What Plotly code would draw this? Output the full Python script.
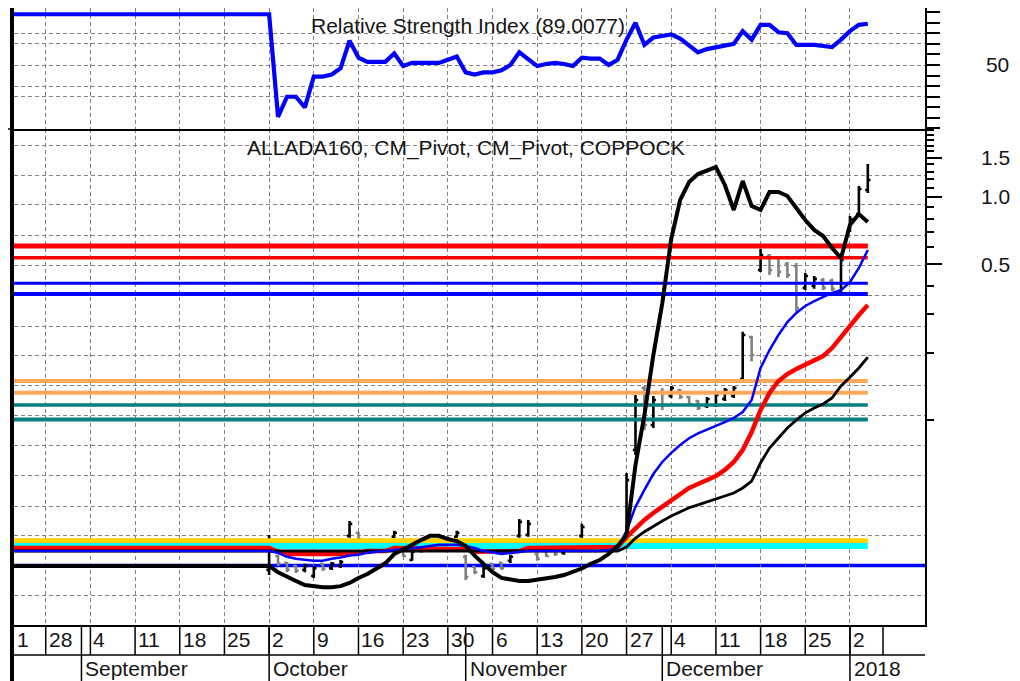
import plotly.graph_objects as go

# trading sessions, 0 = Mon 28 Aug 2017, one step per trading day
session = list(range(-4, 93))
week_starts = [0, 5, 10, 15, 20, 25, 30, 35, 40, 45, 50, 55, 60, 65, 70, 75, 80, 85, 90]
week_labels = ["28", "4", "11", "18", "25", "2", "9", "16", "23", "30",
               "6", "13", "20", "27", "4", "11", "18", "25", "2"]
month_starts = [4, 25, 47, 69, 90]
month_labels = ["September", "October", "November", "December", "2018"]

# upper panel: RSI
rsi = [98, 98, 98, 98, 98, 98, 98, 98, 98, 98,
       98, 98, 98, 98, 98, 98, 98, 98, 98, 98,
       98, 98, 98, 98, 98, 98, 98, 98, 98, 98,
       1, 20, 20, 10, 39, 39, 41, 47, 73, 57,
       53, 53, 53, 61, 49, 52, 52, 52, 52, 55,
       58, 43, 41, 43, 43, 45, 50, 62, 55, 49,
       51, 52, 51, 49, 57, 56, 56, 50, 55, 74,
       90, 69, 76, 78, 79, 75, 68, 62, 65, 67,
       69, 70, 82, 74, 88, 88, 81, 80, 69, 69,
       69, 68, 67, 74, 82, 88, 89.0077]
rsi_grid = [20, 30, 50, 70, 80]
rsi_ticktext = ["", "", "50", "", ""]

# lower panel: coppock and three moving averages
coppock = [
    0.0223, 0.0223, 0.0223, 0.0223, 0.0223, 0.0223, 0.0223, 0.0223, 0.0223, 0.0223,
    0.0223, 0.0223, 0.0223, 0.0223, 0.0223, 0.0223, 0.0223, 0.0223, 0.0223, 0.0223,
    0.0223, 0.0223, 0.0223, 0.0223, 0.0223, 0.0223, 0.0223, 0.0223, 0.0223, 0.0223,
    0.0209, 0.0199, 0.0191, 0.0183, 0.0181, 0.0179, 0.0179, 0.0181, 0.0187, 0.0197,
    0.0205, 0.0217, 0.0229, 0.0252, 0.0263, 0.0277, 0.0291, 0.0304, 0.0304, 0.0294,
    0.0288, 0.0274, 0.0248, 0.0228, 0.0209, 0.0197, 0.0193, 0.0191, 0.0191, 0.0193,
    0.0195, 0.0199, 0.0203, 0.0209, 0.0217, 0.0228, 0.0237, 0.0252, 0.0274, 0.0307,
    0.0631, 0.1057, 0.196, 0.335, 0.649, 0.970, 1.167, 1.267, 1.321, 1.362,
    1.132, 0.875, 1.179, 0.912, 0.875, 1.053, 1.053, 1.010, 0.893, 0.789,
    0.712, 0.669, 0.591, 0.533, 0.749, 0.839, 0.773]

ma_blue = [
    0.0260, 0.0260, 0.0260, 0.0260, 0.0260, 0.0260, 0.0260, 0.0260, 0.0260, 0.0260,
    0.0260, 0.0260, 0.0260, 0.0260, 0.0260, 0.0260, 0.0260, 0.0260, 0.0260, 0.0260,
    0.0260, 0.0260, 0.0260, 0.0260, 0.0260, 0.0260, 0.0260, 0.0260, 0.0260, 0.0260,
    0.0255, 0.0245, 0.0240, 0.0237, 0.0235, 0.0235, 0.0240, 0.0243, 0.0248, 0.0250,
    0.0255, 0.0258, 0.0260, 0.0263, 0.0265, 0.0268, 0.0270, 0.0274, 0.0277, 0.0277,
    0.0277, 0.0274, 0.0268, 0.0260, 0.0255, 0.0252, 0.0255, 0.0258, 0.0260, 0.0260,
    0.0260, 0.0260, 0.0260, 0.0260, 0.0260, 0.0260, 0.0260, 0.0263, 0.0268, 0.0320,
    0.0410, 0.0488, 0.0575, 0.0651, 0.0715, 0.0775, 0.0832, 0.0874, 0.0905, 0.0944,
    0.0982, 0.1025, 0.1090, 0.1233, 0.1716, 0.2065, 0.2410, 0.2756, 0.3025, 0.3250,
    0.342, 0.357, 0.372, 0.383, 0.416, 0.481, 0.579]

ma_red = [
    0.0268, 0.0268, 0.0268, 0.0268, 0.0268, 0.0268, 0.0268, 0.0268, 0.0268, 0.0268,
    0.0268, 0.0268, 0.0268, 0.0268, 0.0268, 0.0268, 0.0268, 0.0268, 0.0268, 0.0268,
    0.0268, 0.0268, 0.0268, 0.0268, 0.0268, 0.0268, 0.0268, 0.0268, 0.0268, 0.0268,
    0.0258, 0.0252, 0.0252, 0.0252, 0.0252, 0.0252, 0.0252, 0.0252, 0.0252, 0.0255,
    0.0260, 0.0260, 0.0260, 0.0268, 0.0268, 0.0268, 0.0268, 0.0268, 0.0268, 0.0268,
    0.0268, 0.0265, 0.0258, 0.0258, 0.0258, 0.0258, 0.0260, 0.0260, 0.0268, 0.0268,
    0.0268, 0.0268, 0.0268, 0.0268, 0.0268, 0.0268, 0.0268, 0.0268, 0.0271, 0.0300,
    0.0330, 0.0358, 0.0385, 0.0410, 0.0435, 0.0467, 0.0498, 0.0519, 0.0540, 0.0563,
    0.0600, 0.0651, 0.0737, 0.0887, 0.1113, 0.1326, 0.1500, 0.1611, 0.1698, 0.1769,
    0.1842, 0.1941, 0.2107, 0.2362, 0.2672, 0.2963, 0.3285]

ma_black = [
    0.0260, 0.0260, 0.0260, 0.0260, 0.0260, 0.0260, 0.0260, 0.0260, 0.0260, 0.0260,
    0.0260, 0.0260, 0.0260, 0.0260, 0.0260, 0.0260, 0.0260, 0.0260, 0.0260, 0.0260,
    0.0260, 0.0260, 0.0260, 0.0260, 0.0260, 0.0260, 0.0260, 0.0260, 0.0260, 0.0260,
    0.0260, 0.0260, 0.0260, 0.0260, 0.0260, 0.0260, 0.0260, 0.0260, 0.0260, 0.0260,
    0.0260, 0.0260, 0.0260, 0.0260, 0.0260, 0.0260, 0.0260, 0.0260, 0.0260, 0.0260,
    0.0260, 0.0260, 0.0260, 0.0260, 0.0260, 0.0260, 0.0260, 0.0260, 0.0260, 0.0260,
    0.0260, 0.0260, 0.0260, 0.0260, 0.0260, 0.0260, 0.0260, 0.0260, 0.0260, 0.0271,
    0.0297, 0.0317, 0.0336, 0.0354, 0.0373, 0.0390, 0.0406, 0.0418, 0.0431, 0.0445,
    0.0458, 0.0473, 0.0498, 0.0535, 0.0645, 0.0751, 0.0834, 0.0924, 0.1004, 0.1080,
    0.1136, 0.1184, 0.1260, 0.1425, 0.1560, 0.1716, 0.1920]

# ALLADA160 price bars (sessions 25..92)
bar_session = session[29:]
bar_open = [
    0.0214, 0.0247, 0.0230, 0.0223, 0.0214, 0.0201, 0.0228, 0.0218, 0.0223, 0.0304,
    0.0314, 0.0285, 0.0271, 0.0263, 0.0301, 0.0265, 0.0237, 0.0271, 0.0274, 0.0291,
    0.0280, 0.0301, 0.0245, 0.0221, 0.0201, 0.0228, 0.0230, 0.0235, 0.0304, 0.0307,
    0.0252, 0.0260, 0.0263, 0.0255, 0.0268, 0.0304, 0.0285, 0.0274, 0.0260, 0.0263,
    0.0277, 0.0737, 0.1396, 0.0953, 0.1339, 0.1286, 0.1367, 0.1273, 0.1221, 0.1160,
    0.1172, 0.1247, 0.1286, 0.153, 0.236, 0.471, 0.544, 0.533, 0.501, 0.491,
    0.392, 0.400, 0.425, 0.421, 0.379, 0.712, 0.839, 1.075]
bar_high = [
    0.0307, 0.0250, 0.0232, 0.0225, 0.0228, 0.0223, 0.0230, 0.0232, 0.0237, 0.0354,
    0.0317, 0.0291, 0.0277, 0.0280, 0.0320, 0.0268, 0.0263, 0.0277, 0.0291, 0.0298,
    0.0301, 0.0320, 0.0250, 0.0223, 0.0223, 0.0230, 0.0232, 0.0250, 0.0362, 0.0358,
    0.0255, 0.0263, 0.0268, 0.0271, 0.0291, 0.0344, 0.0288, 0.0277, 0.0274, 0.0277,
    0.0581, 0.1299, 0.1425, 0.1286, 0.1396, 0.1425, 0.1382, 0.1286, 0.1233, 0.1273,
    0.1326, 0.1396, 0.1425, 0.249, 0.239, 0.585, 0.556, 0.544, 0.512, 0.507,
    0.457, 0.443, 0.434, 0.430, 0.539, 0.822, 1.120, 1.405]
bar_low = [
    0.0203, 0.0223, 0.0209, 0.0207, 0.0209, 0.0197, 0.0212, 0.0214, 0.0218, 0.0298,
    0.0291, 0.0265, 0.0255, 0.0258, 0.0298, 0.0245, 0.0235, 0.0255, 0.0268, 0.0274,
    0.0277, 0.0298, 0.0193, 0.0205, 0.0197, 0.0212, 0.0214, 0.0230, 0.0298, 0.0301,
    0.0235, 0.0245, 0.0247, 0.0250, 0.0263, 0.0298, 0.0265, 0.0258, 0.0255, 0.0258,
    0.0268, 0.0700, 0.0905, 0.0924, 0.1113, 0.1260, 0.1247, 0.1160, 0.1113, 0.1136,
    0.1148, 0.1221, 0.1260, 0.150, 0.184, 0.462, 0.4475, 0.438, 0.434, 0.306,
    0.383, 0.388, 0.383, 0.379, 0.372, 0.697, 0.822, 1.042]
bar_close = [
    0.0277, 0.0228, 0.0214, 0.0212, 0.0223, 0.0218, 0.0216, 0.0228, 0.0232, 0.0344,
    0.0294, 0.0271, 0.0260, 0.0274, 0.0314, 0.0247, 0.0258, 0.0260, 0.0285, 0.0280,
    0.0294, 0.0314, 0.0199, 0.0209, 0.0218, 0.0216, 0.0218, 0.0245, 0.0351, 0.0344,
    0.0240, 0.0247, 0.0252, 0.0265, 0.0285, 0.0333, 0.0271, 0.0263, 0.0268, 0.0271,
    0.0540, 0.1233, 0.0953, 0.1233, 0.1172, 0.1396, 0.1273, 0.1184, 0.1136, 0.1247,
    0.1299, 0.1367, 0.1396, 0.241, 0.196, 0.550, 0.471, 0.462, 0.4475, 0.318,
    0.443, 0.430, 0.392, 0.388, 0.522, 0.797, 1.086, 1.192]

# CM_Pivot levels
pivot_levels = [0.603, 0.535, 0.411, 0.368, 0.150, 0.133, 0.117, 0.101, 0.0289, 0.0274]
support_level = 0.0224

# dashed grid rows (the one under the support line is hidden by it)
price_grid = [1.697, 1.246, 0.921, 0.669, 0.491, 0.3615, 0.2626, 0.1947, 0.1430,
              0.1049, 0.0768, 0.0565, 0.0411, 0.0304, 0.0164]
price_ticks = [0.5, 1.0, 1.5]
price_ticktext = ["0.5", "1.0", "1.5"]
price_minor = [0.1, 0.2, 0.3, 0.4, 0.6, 0.7, 0.8, 0.9, 1.1, 1.2, 1.3, 1.4,
               1.6, 1.7, 1.8, 1.9, 2.0]

pivot_colors = ["#FF0000", "#FF0000", "#0000FF", "#0000FF", "#FFA858", "#FFA858",
                "#008080", "#008080", "#FFD200", "#00FFFF"]
pivot_widths = [5, 3.5, 3, 4, 4, 4, 3.5, 4, 5, 6]

GRID = "#808080"
FONT = "Liberation Sans, Arial, sans-serif"
TXT = "#151515"

fig = go.Figure()

for lvl, col, w in zip(pivot_levels, pivot_colors, pivot_widths):
    fig.add_trace(go.Scatter(x=[session[0], session[-1]], y=[lvl, lvl], mode="lines",
                             line=dict(color=col, width=w), hoverinfo="skip"))

fig.add_trace(go.Scatter(x=session, y=ma_red, mode="lines", line=dict(color="#FF0000", width=4.5)))
fig.add_trace(go.Scatter(x=session, y=ma_black, mode="lines", line=dict(color="black", width=2.8)))
fig.add_trace(go.Scatter(x=session, y=ma_blue, mode="lines", line=dict(color="#0000FF", width=2.5)))

fig.add_trace(go.Ohlc(x=bar_session, open=bar_open, high=bar_high, low=bar_low, close=bar_close,
                      increasing=dict(line=dict(color="black", width=2.6)),
                      decreasing=dict(line=dict(color="#808080", width=2.6)),
                      tickwidth=0.3))

# coppock sits on the labelled overlay axis (same scale), drawn on top
fig.add_trace(go.Scatter(x=session, y=coppock, mode="lines", yaxis="y3",
                         line=dict(color="black", width=4)))

fig.add_trace(go.Scatter(x=session, y=rsi, mode="lines", xaxis="x2", yaxis="y2",
                         line=dict(color="#0000FF", width=4.2)))

grid_x = dict(tickmode="array", tickvals=week_starts, showticklabels=False, ticks="",
              showgrid=True, gridcolor=GRID, griddash="4px,3px", gridwidth=1,
              zeroline=False, range=[-3.55, 98.4])
log_range = [-1.9163, 0.3045]
split = 0.8039

fig.update_layout(
    width=1012, height=673,
    margin=dict(l=6, r=95, t=0, b=56),
    paper_bgcolor="white", plot_bgcolor="white",
    showlegend=False,
    font=dict(family=FONT, size=21, color=TXT),
    xaxis=dict(domain=[0, 1], anchor="y", showline=True, linecolor="black", linewidth=1.5,
               rangeslider=dict(visible=False), **grid_x),
    xaxis2=dict(domain=[0, 1], anchor="y2", matches="x", showline=True, linecolor="black",
                linewidth=1.5, **grid_x),
    yaxis=dict(domain=[0, split], anchor="x", type="log", range=log_range, side="right",
               tickmode="array", tickvals=price_grid, showticklabels=False, ticks="",
               showgrid=True, gridcolor=GRID, griddash="4px,3px", gridwidth=1, zeroline=False),
    yaxis3=dict(overlaying="y", anchor="x", type="log", range=log_range, side="right",
                tickmode="array", tickvals=price_ticks, ticktext=price_ticktext,
                ticks="outside", ticklen=15, tickwidth=1.5, tickcolor="black",
                showgrid=False, zeroline=False, showline=True, linecolor="black", linewidth=1.5,
                ticklabelstandoff=35,
                minor=dict(tickmode="array", tickvals=price_minor, ticks="outside", ticklen=7,
                           tickwidth=1.5, tickcolor="black", showgrid=False)),
    yaxis2=dict(domain=[split, 1], anchor="x2", range=[-10.5, 103.9], side="right",
                tickmode="array", tickvals=rsi_grid, ticktext=rsi_ticktext,
                ticks="outside", ticklen=13, tickwidth=1.5, tickcolor="black",
                showgrid=True, gridcolor=GRID, griddash="4px,3px", gridwidth=1,
                zeroline=False, showline=True, linecolor="black", linewidth=1.5,
                ticklabelstandoff=42,
                minor=dict(dtick=10, tick0=0, ticks="outside", ticklen=13, tickwidth=1.5,
                           tickcolor="black", showgrid=False)),
)

# frame: heavy left rule, date table under the chart, full-width support line
row_sep = -0.0486
row_end = -0.0908
shapes = [
    dict(type="line", xref="paper", yref="y", x0=0, x1=1, y0=support_level, y1=support_level,
         layer="below", line=dict(color="#0000FF", width=3.5)),
    dict(type="line", xref="paper", yref="paper", x0=-0.0022, x1=-0.0022, y0=row_end, y1=1.02,
         line=dict(color="black", width=4)),
    dict(type="line", xref="paper", yref="paper", x0=-0.01, x1=0, y0=split, y1=split,
         line=dict(color="black", width=1.5)),
    dict(type="line", xref="paper", yref="paper", x0=0, x1=1, y0=row_sep, y1=row_sep,
         line=dict(color="black", width=1.5)),
]
for xv in week_starts + month_starts + [93.7]:
    shapes.append(dict(type="line", xref="x", yref="paper", x0=xv, x1=xv, y0=0, y1=row_sep,
                       line=dict(color="black", width=1.5)))
for xv in month_starts:
    shapes.append(dict(type="line", xref="x", yref="paper", x0=xv, x1=xv, y0=row_sep, y1=row_end,
                       line=dict(color="black", width=1.5)))
fig.update_layout(shapes=shapes)

ann = [
    dict(text="Relative Strength Index (89.0077)", x=0.4984, y=0.9716),
    dict(text="ALLADA160, CM_Pivot, CM_Pivot, COPPOCK", x=0.496, y=0.7731),
]
for a in ann:
    fig.add_annotation(text=a["text"], x=a["x"], y=a["y"], xref="paper", yref="paper",
                       showarrow=False, xanchor="center", yanchor="middle",
                       font=dict(family=FONT, size=21, color=TXT))

fig.add_annotation(text="1", x=-3.55, y=-0.0243, xref="x", yref="paper", showarrow=False,
                   xanchor="left", yanchor="middle", xshift=1, font=dict(family=FONT, size=21, color=TXT))
for xv, lab in zip(week_starts, week_labels):
    fig.add_annotation(text=lab, x=xv, y=-0.0243, xref="x", yref="paper", showarrow=False,
                       xanchor="left", yanchor="middle", xshift=1,
                       font=dict(family=FONT, size=21, color=TXT))
for xv, lab in zip(month_starts, month_labels):
    fig.add_annotation(text=lab, x=xv, y=-0.0697, xref="x", yref="paper", showarrow=False,
                       xanchor="left", yanchor="middle", xshift=2,
                       font=dict(family=FONT, size=21, color=TXT))

fig.write_html("out.html")
